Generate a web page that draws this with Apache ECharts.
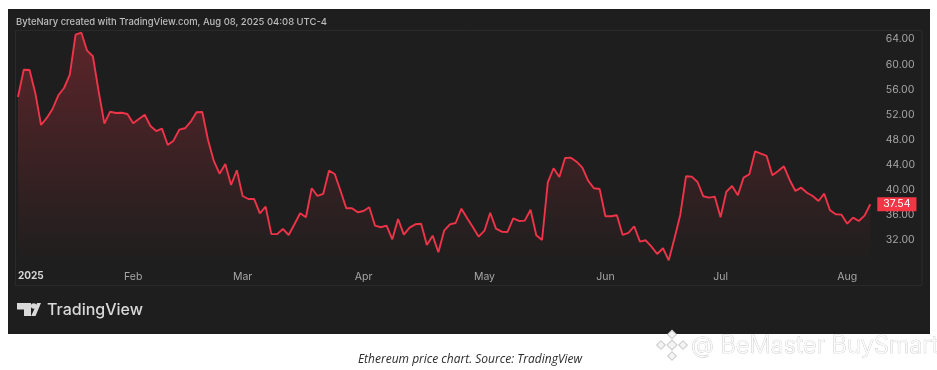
<!DOCTYPE html>
<html>
<head>
<meta charset="utf-8">
<title>Ethereum price chart</title>
<script src="https://cdn.jsdelivr.net/npm/echarts@6/dist/echarts.min.js"></script>
<style>
  html, body { margin: 0; padding: 0; background: #fff; }
  #chart { width: 937px; height: 370px; }
</style>
</head>
<body>
<div id="chart"></div>
<script>
// trading days, 2025
const dates = [
  "01-02","01-03","01-06","01-07","01-08","01-10","01-13","01-14","01-15","01-16","01-17","01-21","01-22","01-23","01-24","01-27","01-28","01-29","01-30","01-31",
  "02-03","02-04","02-05","02-06","02-07","02-10","02-11","02-12","02-13","02-14","02-18","02-19","02-20","02-21","02-24","02-25","02-26","02-27","02-28",
  "03-03","03-04","03-05","03-06","03-07","03-10","03-11","03-12","03-13","03-14","03-17","03-18","03-19","03-20","03-21","03-24","03-25","03-26","03-27","03-28","03-31",
  "04-01","04-02","04-03","04-04","04-07","04-08","04-09","04-10","04-11","04-14","04-15","04-16","04-17","04-21","04-22","04-23","04-24","04-25","04-28","04-29","04-30",
  "05-01","05-02","05-05","05-06","05-07","05-08","05-09","05-12","05-13","05-14","05-15","05-16","05-19","05-20","05-21","05-22","05-23","05-27","05-28","05-29","05-30",
  "06-02","06-03","06-04","06-05","06-06","06-09","06-10","06-11","06-12","06-13","06-16","06-17","06-18","06-20","06-23","06-24","06-25","06-26","06-27","06-30",
  "07-01","07-02","07-03","07-07","07-08","07-09","07-10","07-11","07-14","07-15","07-16","07-17","07-18","07-21","07-22","07-23","07-24","07-25","07-28","07-29","07-30","07-31",
  "08-01","08-04","08-05","08-06","08-07"
];

const prices = [
  54.65,59.00,58.95,55.29,50.18,51.30,52.73,54.92,56.08,58.20,64.58,64.90,62.03,61.14,55.56,50.39,52.30,52.10,52.14,51.94,
  50.45,51.14,51.82,50.02,49.22,49.59,46.99,47.68,49.43,49.66,50.71,52.21,52.26,47.79,44.44,42.41,43.96,40.61,42.96,
  38.86,38.38,38.38,36.10,37.15,32.77,32.77,33.59,32.64,34.34,36.10,35.46,40.09,38.86,39.18,42.89,42.37,39.70,36.90,36.90,36.26,36.47,
  37.06,34.12,33.87,34.12,31.95,35.19,32.69,33.80,34.34,34.42,31.04,32.53,29.88,33.32,34.34,34.55,36.83,35.30,33.87,32.37,
  33.32,36.19,33.64,33.16,33.12,35.30,34.87,34.92,36.67,32.59,31.84,41.04,43.28,41.89,44.92,44.97,44.33,43.37,41.30,40.09,39.97,
  35.62,35.62,35.78,32.64,32.96,34.03,31.57,31.79,30.77,29.61,30.52,28.60,32.11,35.83,42.00,41.94,41.09,38.81,38.59,38.75,
  35.46,39.54,40.45,38.97,41.78,42.32,45.99,45.60,45.24,42.16,42.85,43.59,41.41,39.66,40.18,39.38,38.86,38.06,39.22,36.58,35.94,35.88,
  34.44,35.40,34.87,35.72,37.54
];

const monthLabels = {
  "01-02": "2025", "02-03": "Feb", "03-03": "Mar", "04-01": "Apr",
  "05-01": "May", "06-02": "Jun", "07-01": "Jul", "08-01": "Aug"
};
const priceTicks = [32, 36, 40, 44, 48, 52, 56, 60, 64];

const headerText = "ByteNary created with TradingView.com, Aug 08, 2025 04:08 UTC-4";
const captionText = "Ethereum price chart. Source: TradingView";
const watermarkText = "@ BeMaster BuySmart";

const RED = "#ef3349";
const GREY = "#a6a6a6";
const FONT = "Inter, Roboto, sans-serif";

// binance style diamonds of the watermark
const diamond = (x, y, size) => ({
  type: "rect",
  x: x, y: y, originX: 0, originY: 0, rotation: Math.PI / 4,
  shape: { x: -size / 2, y: -size / 2, width: size, height: size },
  style: { fill: "#f4f4f4", stroke: "#cfcfcf", lineWidth: 1.2 },
  z: 5
});

const option = {
  animation: false,
  backgroundColor: "#fff",
  textStyle: { fontFamily: FONT },
  grid: { left: 18, right: 66.7, top: 30, height: 235, containLabel: false },
  xAxis: {
    type: "category",
    boundaryGap: false,
    data: dates,
    axisLine: { show: false },
    axisTick: { show: false },
    splitLine: { show: false },
    axisLabel: {
      color: GREY,
      fontSize: 10.5,
      margin: 6,
      alignMinLabel: "left",
      hideOverlap: false,
      interval: (i, v) => v in monthLabels,
      formatter: (v) => v === "01-02" ? "{b|" + monthLabels[v] + "}" : monthLabels[v],
      rich: { b: { color: "#d6d6d6", fontWeight: 700, fontSize: 10, fontFamily: FONT } }
    }
  },
  yAxis: {
    type: "value",
    position: "right",
    min: 27.85,
    max: 65.33,
    axisLine: { show: false },
    axisTick: { show: false },
    splitLine: { show: false },
    axisLabel: {
      color: GREY,
      margin: 15.5,
      customValues: priceTicks,
      formatter: (v) => "{p|" + v.toFixed(2) + "}",
      rich: { p: { color: GREY, fontSize: 10.5, fontFamily: FONT, padding: [2, 0, 0, 0] } }
    }
  },
  series: [
    {
      name: "Price",
      type: "line",
      data: prices,
      showSymbol: false,
      symbol: "none",
      smooth: false,
      lineStyle: { color: RED, width: 1.9 },
      areaStyle: {
        color: new echarts.graphic.LinearGradient(0, 0, 0, 1, [
          { offset: 0, color: "rgba(242, 54, 69, 0.42)" },
          { offset: 1, color: "rgba(242, 54, 69, 0)" }
        ])
      },
      endLabel: {
        show: true,
        distance: 7,
        formatter: (p) => p.value.toFixed(2),
        color: "#fff",
        fontSize: 10.5,
        backgroundColor: "#f23645",
        padding: [2, 6, 1, 6]
      }
    }
  ],
  graphic: [
    // dark card and plot frame
    { type: "rect", shape: { x: 8, y: 9, width: 922, height: 325 }, style: { fill: "#1e1e1e" }, z: -10 },
    { type: "rect", shape: { x: 15.5, y: 30.5, width: 906.5, height: 255 }, style: { fill: null, stroke: "#2a2a2a", lineWidth: 1 }, z: -9 },
    { type: "text", x: 16, y: 22, style: { text: headerText, fill: "#bdbdbd", font: "500 9.45px " + FONT, textVerticalAlign: "middle" } },

    // TradingView logo
    { type: "polygon", shape: { points: [[17, 303], [31, 303], [31, 316], [24, 316], [24, 309.5], [17, 309.5]] }, style: { fill: "#d9d9d9" } },
    { type: "circle", shape: { cx: 33.7, cy: 306, r: 2.8 }, style: { fill: "#d9d9d9" } },
    { type: "polygon", shape: { points: [[37, 303], [41, 303], [35.5, 316], [31.2, 316]] }, style: { fill: "#d9d9d9" } },
    { type: "text", x: 47, y: 310, style: { text: "TradingView", fill: "#d9d9d9", font: "500 16px " + FONT, textVerticalAlign: "middle" } },

    // caption under the card
    { type: "text", x: 470, y: 360, style: { text: captionText, fill: "#2b2b2b", font: "italic 12px 'Open Sans', sans-serif", textAlign: "center", textVerticalAlign: "middle" } },

    // watermark
    diamond(672, 334.5, 6), diamond(661, 345, 6), diamond(683, 345, 6), diamond(672, 345, 7), diamond(672, 356, 6),
    { type: "text", x: 691, y: 346, z: 5, style: { text: watermarkText, fill: "#fbfbfb", stroke: "#c4c4c4", lineWidth: 0.7, font: "300 23.6px Inter, Roboto, sans-serif", textVerticalAlign: "middle" } }
  ]
};

const myChart = echarts.init(document.getElementById("chart"));
myChart.setOption(option);
</script>
</body>
</html>
